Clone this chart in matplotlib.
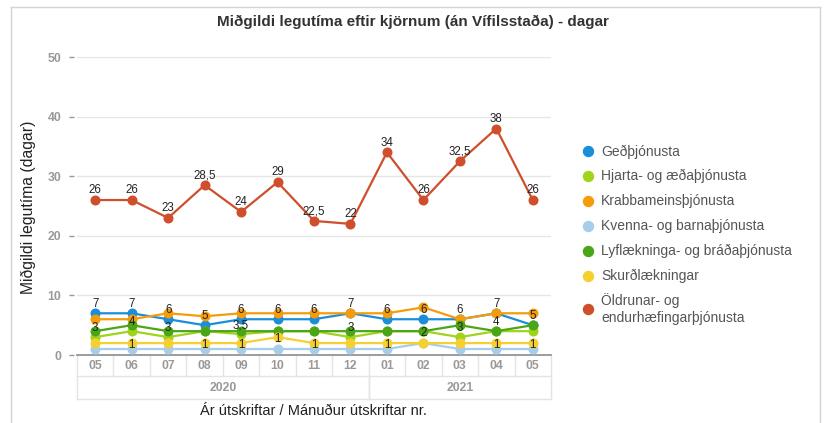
import matplotlib.pyplot as plt
from matplotlib.lines import Line2D
import numpy as np

#### -------- Gögn -------- ####
MONTHS = ["05", "06", "07", "08", "09", "10", "11", "12", "01", "02", "03", "04", "05"]
YEARS = ["2020", "2021"]
YEAR_SPAN = [(0, 7), (8, 12)]  # fyrsti og síðasti mánuður hvers árs

SERIES = [
    "Geðþjónusta",
    "Hjarta- og æðaþjónusta",
    "Krabbameinsþjónusta",
    "Kvenna- og barnaþjónusta",
    "Lyflækninga- og bráðaþjónusta",
    "Skurðlækningar",
    "Öldrunar- og\nendurhæfingarþjónusta",
]
ged = [7, 7, 6, 5, 6, 6, 6, 7, 6, 6, 6, 7, 5]
hjarta = [3, 4, 3, 4, 3.5, 4, 4, 3, 4, 4, 3, 4, 4]
krabb = [6, 6, 7, 6.5, 7, 7, 7, 7, 7, 8, 6, 7, 7]
kvenna = [1, 1, 1, 1, 1, 1, 1, 1, 1, 2, 1, 1, 1]
lyf = [4, 5, 4, 4, 4, 4, 4, 4, 4, 4, 5, 4, 5]
skurd = [2, 2, 2, 2, 2, 3, 2, 2, 2, 2, 2, 2, 2]
oldrun = [26, 26, 23, 28.5, 24, 29, 22.5, 22, 34, 26, 32.5, 38, 26]
VALUES = [ged, hjarta, krabb, kvenna, lyf, skurd, oldrun]

# gildamerki eins og þau sjást á myndinni (None = ekkert merki)
ged_lbl = ["7", "7", "6", "5", "6", "6", "6", "7", "6", "6", "6", "7", "5"]
hjarta_lbl = ["3", "4", "3", None, "3,5", None, None, "3", None, None, "3", "4", None]
kvenna_lbl = [None] * 9 + ["2"] + [None] * 3
skurd_lbl = [None, "1", None, "1", "1", "1", "1", None, "1", None, None, "1", "1"]
oldrun_lbl = ["26", "26", "23", "28,5", "24", "29", "22,5", "22", "34", "26", "32,5", "38", "26"]
LABELS = [ged_lbl, hjarta_lbl, None, kvenna_lbl, None, skurd_lbl, oldrun_lbl]
LABEL_DY = [6.5, 6.5, 0, 7.5, 0, -1.5, 7]  # pt

COLORS = ["#1b8ed8", "#9fd31c", "#f59c0c", "#a6cdea", "#4aa517", "#f6cf30", "#cf4f2c"]

#### -------- Stillingar -------- ####
plt.rcParams["font.family"] = ["Liberation Sans", "DejaVu Sans"]
NARROW = ["Liberation Sans Narrow", "Liberation Sans", "DejaVu Sans"]
W, H = 824, 423

fig = plt.figure(figsize=(W / 100, H / 100), dpi=100)
fx = lambda x: x / W
fy = lambda y: 1 - y / H

# ytri rammi
for xs, ys in [((11, 11), (7, 423)), ((11, 820), (7, 7)), ((820, 820), (7, 423))]:
    fig.add_artist(Line2D([fx(v) for v in xs], [fy(v) for v in ys], color="#d4d4d4", lw=1))

L, R, T, B = 77, 551, 57, 355
ax = fig.add_axes([fx(L), fy(B), (R - L) / W, (B - T) / H])

x = np.arange(len(MONTHS))
for name, vals, col in zip(SERIES, VALUES, COLORS):
    ax.plot(x, vals, color=col, lw=1.6, marker="o", ms=6.2, mec=col, clip_on=False, zorder=3)

for vals, lbls, dy in zip(VALUES, LABELS, LABEL_DY):
    if lbls is None:
        continue
    for i, (v, t) in enumerate(zip(vals, lbls)):
        if t is None:
            continue
        ax.annotate(t, (i, v), xytext=(0, dy), textcoords="offset points",
                    ha="center", va="center", fontsize=8.3, color="#222222", zorder=5)

ax.set_xlim(-0.5, len(MONTHS) - 0.5)
ax.set_ylim(0, 50)
ax.set_yticks(np.arange(0, 51, 10))
ax.set_xticks([])
ax.yaxis.grid(True, color="#e6e6e6", lw=1)
ax.set_axisbelow(True)
for s in ["top", "right", "left"]:
    ax.spines[s].set_visible(False)
ax.spines["left"].set_position(("outward", 2.2))
ax.spines["bottom"].set_color("#8c8c8c")
ax.spines["bottom"].set_linewidth(1.2)
ax.tick_params(axis="y", length=3.6, width=1, color="#999999", pad=5.5,
               labelsize=8.8, labelcolor="#999999")
for t in ax.get_yticklabels():
    t.set_fontweight("bold")
    t.set_family(NARROW)

# flokkatafla undir ásnum
tr = ax.get_xaxis_transform()
r1, r2 = -21 / (B - T), -44 / (B - T)
grid_c = "#e4e4e4"
for yy in (r1, r2):
    ax.plot([-0.5, len(MONTHS) - 0.5], [yy, yy], transform=tr, color=grid_c, lw=1, clip_on=False)
for i in range(len(MONTHS) + 1):
    ax.plot([i - 0.5, i - 0.5], [0, r1], transform=tr, color=grid_c, lw=1, clip_on=False)
for a, b in YEAR_SPAN:
    for xx in (a - 0.5, b + 0.5):
        ax.plot([xx, xx], [r1, r2], transform=tr, color=grid_c, lw=1, clip_on=False)
for i, m in enumerate(MONTHS):
    ax.text(i, r1 / 2, m, transform=tr, ha="center", va="center", fontsize=8.8,
            fontweight="bold", color="#999999", family=NARROW)
for yr, (a, b) in zip(YEARS, YEAR_SPAN):
    ax.text((a + b) / 2, (r1 + r2) / 2, yr, transform=tr, ha="center", va="center",
            fontsize=8.8, fontweight="bold", color="#999999", family=NARROW)

# textar
fig.text(fx(413), fy(22), "Miðgildi legutíma eftir kjörnum (án Vífilsstaða) - dagar",
         ha="center", va="center", fontsize=11, fontweight="bold", color="#333333", family=NARROW)
fig.text(fx(313), fy(411), "Ár útskriftar / Mánuður útskriftar nr.",
         ha="center", va="center", fontsize=10.5, color="#222222")
fig.text(fx(28), fy(207), "Miðgildi legutíma (dagar)", rotation=90,
         ha="center", va="center", fontsize=11.3, color="#222222")

# skýringar
leg_y = [151.5, 176, 201, 226, 251, 276, 309]
for name, col, yy in zip(SERIES, COLORS, leg_y):
    fig.add_artist(Line2D([fx(588)], [fy(yy)], marker="o", ms=7.2, color=col, lw=0))
    fig.text(fx(601), fy(yy), name, ha="left", va="center", fontsize=10,
             color="#555555", linespacing=1.25)

fig.savefig("out.png", dpi=100)
